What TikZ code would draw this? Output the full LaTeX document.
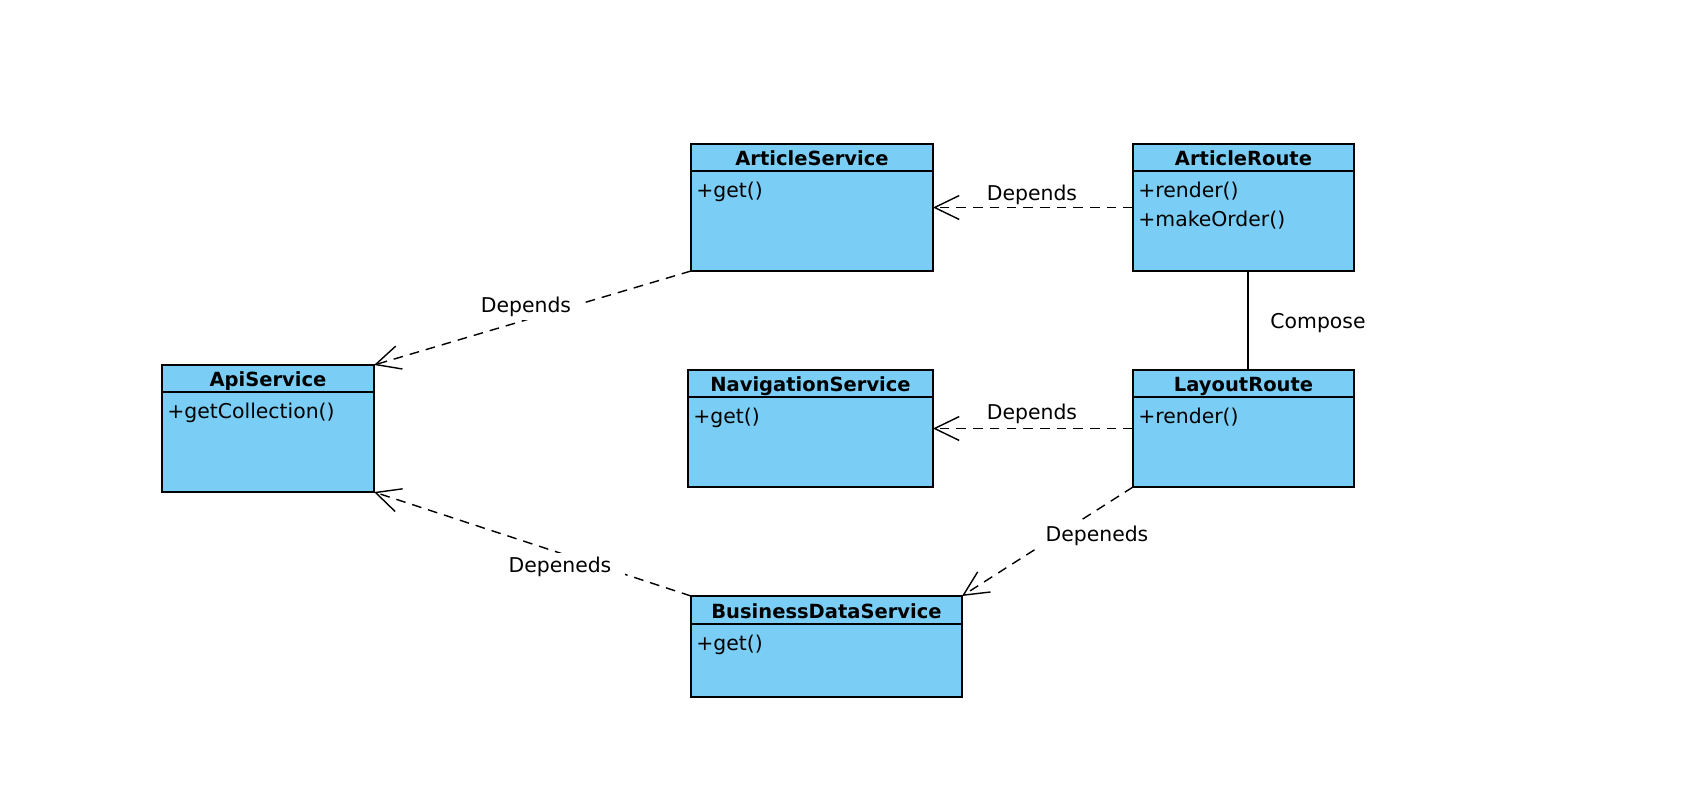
\documentclass[tikz,border=0pt]{standalone}
\usepackage{fontspec}
\setmainfont{DejaVu Sans}
\usetikzlibrary{arrows.meta}
\definecolor{classfill}{RGB}{122,206,245}
\tikzset{
 classbox/.style={draw=black, line width=1.1pt, fill=classfill, inner sep=0pt, outer sep=0pt},
 sepline/.style={draw=black, line width=1.1pt},
 titletext/.style={font=\fontsize{11.1}{13}\selectfont\bfseries, anchor=base, inner sep=0pt},
 methodtext/.style={font=\fontsize{11.6}{14}\selectfont, anchor=base west, inner sep=0pt},
 dep/.style={draw=black, line width=0.8pt, dash pattern=on 5.5pt off 4pt, -{Straight Barb[length=14pt,width=13.6pt,line width=0.8pt]}},
 assoc/.style={draw=black, line width=0.8pt},
 lbl/.style={font=\fontsize{11.6}{14}\selectfont, anchor=base, inner sep=0pt},
 masklbl/.style={lbl, fill=white, inner xsep=8pt, inner ysep=2pt},
}
\newcommand\umlclass[7]{%
 \node[classbox, minimum width={(#4-#2)*0.02cm}, minimum height={(#5-#3)*0.02cm}] (#1) at ({(#2+#4)/2},{(#3+#5)/2}) {};
 \draw[sepline] (#2,#6) -- (#4,#6);
 \node[titletext] (#1-title) at ({(#2+#4)/2},{#6-6}) {#7};
}
\begin{document}
\begin{tikzpicture}[x=0.02cm,y=-0.02cm]
\useasboundingbox (0,0) rectangle (1698,796);
% classes
\umlclass{as}{691}{144}{933}{271}{171}{ArticleService}
\node[methodtext] (as-m1) at (696,197) {+get()};
\umlclass{ar}{1133}{144}{1354}{271}{171}{ArticleRoute}
\node[methodtext] (ar-m1) at (1138,197) {+render()};
\node[methodtext] (ar-m2) at (1138,226) {+makeOrder()};
\umlclass{api}{162}{365}{374}{492}{392}{ApiService}
\node[methodtext] (api-m1) at (167,418) {+getCollection()};
\umlclass{nav}{688}{370}{933}{487}{397}{NavigationService}
\node[methodtext] (nav-m1) at (693,423) {+get()};
\umlclass{lr}{1133}{370}{1354}{487}{397}{LayoutRoute}
\node[methodtext] (lr-m1) at (1138,423) {+render()};
\umlclass{bds}{691}{596}{962}{697}{624}{BusinessDataService}
\node[methodtext] (bds-m1) at (696,650) {+get()};
% connectors
\draw[dep] (ar.west) -- (as.east);
\draw[dep] (lr.west) -- (nav.east);
\draw[dep] (as.south west) -- (api.north east);
\draw[dep] (bds.north west) -- (api.south east);
\draw[dep] (lr.south west) -- (bds.north east);
\draw[assoc] ([xshift=0.09cm]ar.south) -- ([xshift=0.09cm]lr.north);
% labels
\node[lbl] (l1) at (1032,200) {Depends};
\node[lbl] (l2) at (1032,419) {Depends};
\node[lbl] (l3) at (1318,328) {Compose};
\node[masklbl] (l4) at (526,312) {Depends};
\node[masklbl] (l5) at (560,572) {Depeneds};
\node[masklbl] (l6) at (1097,541) {Depeneds};
\end{tikzpicture}
\end{document}
